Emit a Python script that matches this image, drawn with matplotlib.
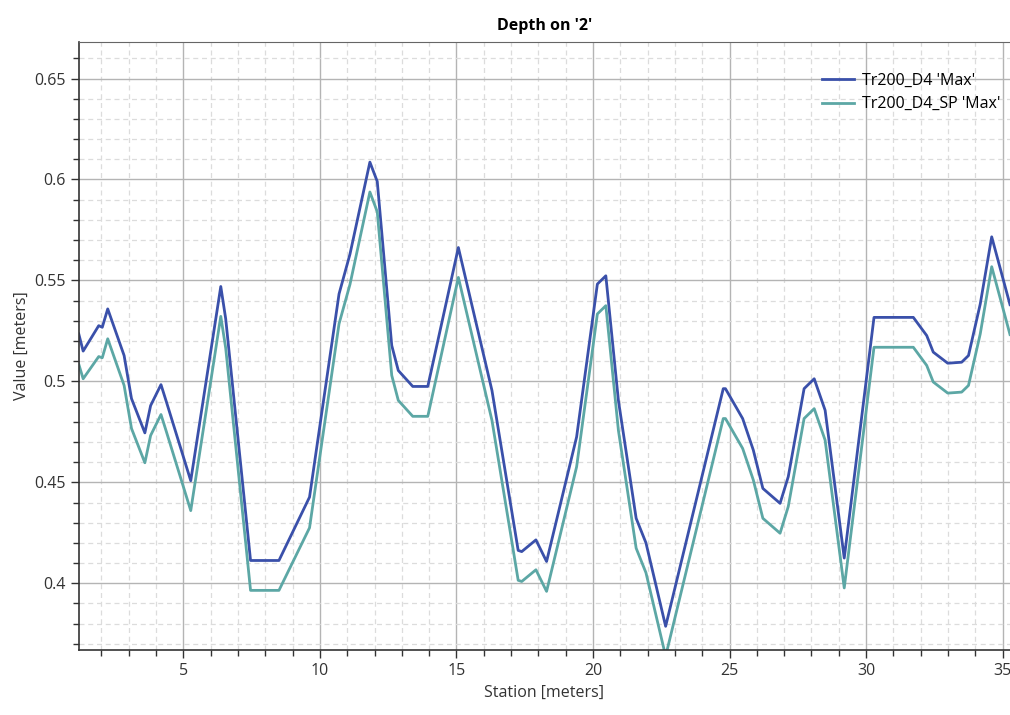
import matplotlib.pyplot as plt
from matplotlib.ticker import MultipleLocator

# datos
station = [1.17, 1.33, 1.9, 2.03, 2.23, 2.83, 3.1, 3.59, 3.8, 4.18, 4.38, 5.27,
           6.37, 6.55, 7.46, 8.5, 9.62, 10.7, 11.1, 11.83, 12.1, 12.63, 12.87,
           13.4, 13.95, 15.07, 16.3, 17.26, 17.39, 17.91, 18.3, 19.4, 20.16,
           20.47, 20.93, 21.58, 21.94, 22.66, 24.77, 24.85, 25.48, 25.87, 26.22,
           26.85, 27.15, 27.73, 28.1, 28.5, 29.2, 30.29, 31.73, 32.22, 32.46,
           32.99, 33.5, 33.75, 34.18, 34.6, 35.27]

d4_max = [0.5235, 0.515, 0.5276, 0.5268, 0.5359, 0.5128, 0.4915, 0.4745, 0.488,
          0.4984, 0.4898, 0.4508, 0.547, 0.531, 0.4113, 0.4113, 0.4427, 0.5433,
          0.563, 0.6086, 0.599, 0.5178, 0.5054, 0.4975, 0.4975, 0.5663, 0.4955,
          0.4163, 0.4157, 0.4215, 0.4108, 0.4725, 0.5482, 0.5523, 0.4906, 0.4322,
          0.42, 0.3787, 0.4964, 0.4964, 0.4816, 0.466, 0.447, 0.4396, 0.4528,
          0.4964, 0.5013, 0.4857, 0.4125, 0.5317, 0.5317, 0.5227, 0.5145, 0.509,
          0.5095, 0.5128, 0.5383, 0.5716, 0.538]

d4_sp_max = [0.5085, 0.5013, 0.5123, 0.5117, 0.5211, 0.498, 0.4767, 0.4597, 0.4732,
             0.4836, 0.475, 0.436, 0.5322, 0.5165, 0.3965, 0.3965, 0.4275, 0.5285,
             0.548, 0.5938, 0.584, 0.503, 0.4906, 0.4827, 0.4827, 0.5515, 0.4807,
             0.4015, 0.4009, 0.4067, 0.396, 0.4577, 0.5334, 0.5375, 0.4758, 0.4174,
             0.4052, 0.3639, 0.4816, 0.4816, 0.4668, 0.4512, 0.4322, 0.4248, 0.438,
             0.4816, 0.4865, 0.4709, 0.3977, 0.5169, 0.5169, 0.5079, 0.4997, 0.4942,
             0.4947, 0.498, 0.5235, 0.5568, 0.5232]

plt.rcParams['font.family'] = ['Open Sans', 'DejaVu Sans']

fig = plt.figure(figsize=(10.1, 7.15), dpi=100)
ax = fig.add_axes([0.078, 0.091, 0.922, 0.850])

ax.plot(station, d4_max, color='#3a50aa', lw=2.0, label="Tr200_D4 'Max'")
ax.plot(station, d4_sp_max, color='#5ca7a5', lw=2.0, label="Tr200_D4_SP 'Max'")

ax.set_xlim(1.17, 35.27)
ax.set_ylim(0.367, 0.668)
ax.xaxis.set_major_locator(MultipleLocator(5))
ax.xaxis.set_minor_locator(MultipleLocator(1))
ax.yaxis.set_minor_locator(MultipleLocator(0.01))
ax.set_yticks([0.4, 0.45, 0.5, 0.55, 0.6, 0.65])
ax.set_yticklabels(['0.4', '0.45', '0.5', '0.55', '0.6', '0.65'])

ax.grid(which='major', color='#b4b4b4', lw=1.0, ls='-')
ax.grid(which='minor', color='#dcdcdc', lw=0.9, ls=(0, (4, 3)))
ax.set_axisbelow(True)

ax.tick_params(which='major', length=6, width=1, color='#333333', labelsize=11.5, labelcolor='#333333')
ax.tick_params(which='minor', length=4, width=1, color='#333333')

for side in ['left', 'bottom']:
    ax.spines[side].set_color('#333333')
    ax.spines[side].set_linewidth(1.2)
ax.spines['top'].set_color('#666666')
ax.spines['right'].set_visible(False)

ax.set_xlabel('Station [meters]', fontsize=11.5, color='#333333', labelpad=4)
ax.set_ylabel('Value [meters]', fontsize=11.5, color='#333333', labelpad=3)
ax.set_title("Depth on '2'", fontsize=11.5, fontweight='bold', pad=9)

ax.legend(loc='upper right', bbox_to_anchor=(1.0, 0.965), frameon=False, fontsize=11.5,
          handlelength=2.0, handletextpad=0.5, labelspacing=0.45, borderaxespad=0.2)

fig.savefig('out.png', dpi=100)
